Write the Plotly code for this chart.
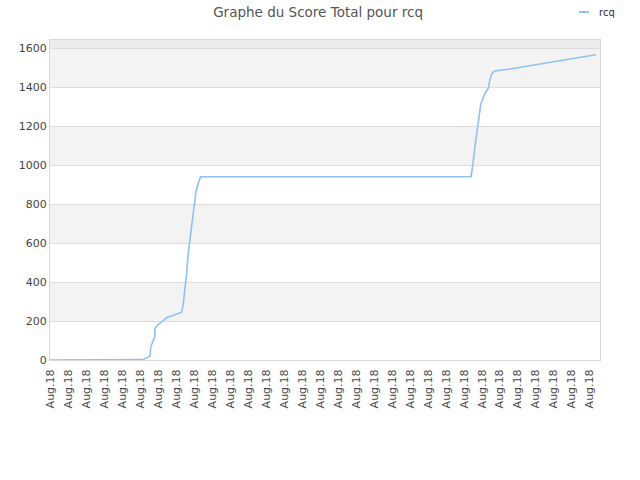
import plotly.graph_objects as go

# data (x in tick-index units; ticks are all labelled "Aug.18")
x_pos = [0, 5.17, 5.46, 5.57, 5.59, 5.68, 5.82, 5.83, 6.0, 6.21, 6.48, 6.94, 7.32, 7.41,
         7.5, 7.59, 7.68, 7.82, 7.93, 8.0, 8.11, 8.24, 8.37, 23.39, 23.48, 23.61, 23.74,
         23.85, 23.93, 24.02, 24.17, 24.35, 24.44, 24.57, 24.72, 25.56, 30.33]
score = [0, 2, 15, 22, 65, 85, 120, 162, 182, 196, 217, 232, 245, 292,
         359, 444, 547, 650, 752, 812, 863, 906, 940, 940, 991, 1094, 1179,
         1248, 1308, 1333, 1368, 1393, 1436, 1473, 1482, 1492, 1565]
tick_vals = list(range(31))
tick_text = ["Aug.18"] * 31
y_ticks = [0, 200, 400, 600, 800, 1000, 1200, 1400, 1600]
series_name = "rcq"
title = "Graphe du Score Total pour rcq"

fig = go.Figure()
fig.add_trace(go.Scatter(x=x_pos, y=score, mode="lines", name=series_name,
                         line=dict(color="#8ec2f3", width=1.6), showlegend=False))

shapes = []
# alternating bands
for lo in [200, 600, 1000, 1400]:
    shapes.append(dict(type="rect", xref="paper", yref="y", x0=0, x1=1, y0=lo, y1=lo + 200,
                       fillcolor="#f3f3f3", line=dict(width=0), layer="below"))
shapes.append(dict(type="rect", xref="paper", yref="y", x0=0, x1=1, y0=1600, y1=1641,
                   fillcolor="#ececec", line=dict(width=0), layer="below"))
# legend symbol
shapes.append(dict(type="line", xref="paper", yref="paper", x0=0.9618, x1=0.98,
                   y0=1.0875, y1=1.0875, line=dict(color="#8ec2f3", width=2)))

fig.update_layout(
    width=640, height=480,
    margin=dict(l=50, r=40, t=40, b=120),
    paper_bgcolor="white", plot_bgcolor="white",
    title=dict(text=title, x=0.497, xref="container", xanchor="center", y=0.975, yanchor="middle",
               font=dict(family="DejaVu Sans", size=13.5, color="#555555")),
    font=dict(family="DejaVu Sans", size=11, color="#444444"),
    shapes=shapes,
    annotations=[dict(text=series_name, xref="paper", yref="paper", x=0.9945, y=1.0875,
                      xanchor="left", yanchor="middle", showarrow=False,
                      font=dict(family="DejaVu Sans", size=10, color="#333333"))],
    xaxis=dict(range=[0, 30.56], tickmode="array", tickvals=tick_vals, ticktext=tick_text,
               tickangle=-90, showgrid=False, zeroline=False, showline=True,
               linecolor="#d8d8d8", mirror=True, ticks="", ticklen=0, automargin=False,
               ticklabelstandoff=4, tickfont=dict(size=11, color="#4a4a4a")),
    yaxis=dict(range=[0, 1641], tickmode="array", tickvals=y_ticks, showgrid=True,
               gridcolor="#dedede", zeroline=False, showline=True, linecolor="#d8d8d8",
               mirror=True, ticks="", automargin=False, tickfont=dict(size=11, color="#444444")),
)
fig.write_html("out.html", config={"displayModeBar": False},
               post_script="document.body.style.margin='0';")
